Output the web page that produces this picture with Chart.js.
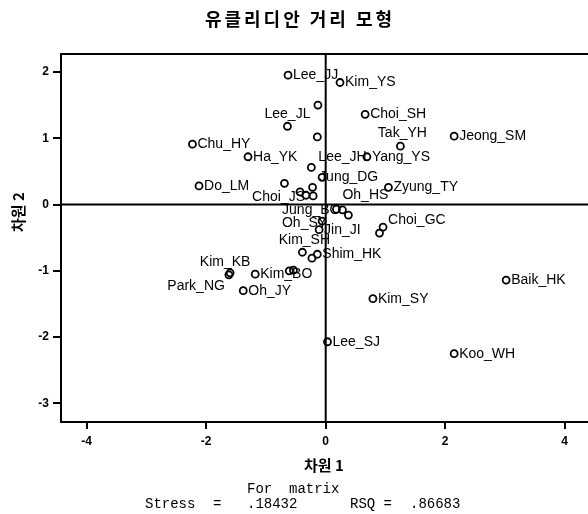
<!DOCTYPE html>
<html>
<head>
<meta charset="utf-8">
<script src="https://cdn.jsdelivr.net/npm/chart.js@4"></script>
<style>
html,body{margin:0;padding:0;background:#fff;}
#wrap{width:588px;height:514px;position:relative;}
</style>
</head>
<body>
<div id="wrap"><canvas id="c" width="588" height="514"></canvas></div>
<script>
// ---- data ----
const names = ['Lee_JJ','Kim_YS','','Lee_JL','','Chu_HY','Ha_YK','Lee_JH','Yang_YS','Jung_DG',
  'Do_LM','','','Choi_JS','','','Jung_BO','Oh_HS','','Zyung_TY',
  'Choi_SH','Tak_YH','Jeong_SM','Oh_SY','Jin_JI','Choi_GC','','Kim_SH','','Shim_HK',
  'Kim_KB','Park_NG','Kim_BO','','','Oh_JY','Lee_SJ','Kim_SY','Baik_HK','Koo_WH'];
const dim1 = [-0.63,0.24,-0.13,-0.64,-0.14,-2.23,-1.30,-0.24,0.69,-0.06,
  -2.12,-0.69,-0.22,-0.43,-0.33,-0.21,0.18,0.28,0.38,1.05,
  0.66,1.25,2.15,-0.06,-0.11,0.96,0.90,-0.39,-0.23,-0.14,
  -1.60,-1.62,-1.18,-0.61,-0.54,-1.38,0.03,0.79,3.02,2.15];
const dim2 = [1.95,1.84,1.50,1.18,1.02,0.91,0.72,0.56,0.72,0.41,
  0.28,0.32,0.26,0.19,0.14,0.13,-0.07,-0.08,-0.16,0.26,
  1.36,0.88,1.03,-0.25,-0.38,-0.34,-0.43,-0.72,-0.81,-0.75,
  -1.03,-1.06,-1.05,-1.00,-0.99,-1.30,-2.07,-1.42,-1.14,-2.25];
const xTicks = [-4,-2,0,2,4];
const yTicks = [2,1,0,-1,-2,-3];
const titleText = '유클리디안 거리 모형';
const xTitle = '차원 1';
const yTitle = '차원 2';
const noteLine1 = [['For  matrix',247]];
const noteLine2 = [['Stress',145],['=',213],['.18432',247],['RSQ =',350],['.86683',410]];

// ---- label placement (layout only) ----
const place = {
  'Lee_JL':  {dx:0, dy:-12, align:'center'},
  'Lee_JH':  {dx:7, dy:-10, align:'left'},
  'Jung_DG': {dx:-3, dy:0, align:'left'},
  'Choi_JS': {dx:5, dy:5, align:'right'},
  'Jung_BO': {dx:4, dy:1, align:'right'},
  'Oh_HS':   {dx:0, dy:-15, align:'left'},
  'Tak_YH':  {dx:2, dy:-13, align:'center'},
  'Oh_SY':   {dx:5, dy:2, align:'right'},
  'Choi_GC': {dx:5, dy:-7, align:'left'},
  'Kim_SH':  {dx:2, dy:-12, align:'center'},
  'Kim_KB':  {dx:-5, dy:-11, align:'center'},
  'Park_NG': {dx:-4, dy:11, align:'right'}
};

const pts = dim1.map((x,i)=>({x:x, y:dim2[i]}));
const FONT = '"Liberation Sans", Arial, sans-serif';
const KFONT = '"Noto Sans CJK KR", "Noto Sans", sans-serif';

const decor = {
  id:'decor',
  beforeDatasetsDraw(chart){
    const {ctx, chartArea:a, scales:{x,y}} = chart;
    ctx.save();
    ctx.strokeStyle='#000'; ctx.lineWidth=2;
    ctx.beginPath();
    ctx.moveTo(a.left-1, a.top); ctx.lineTo(a.right, a.top);
    const x0 = x.getPixelForValue(0), y0 = y.getPixelForValue(0);
    ctx.moveTo(x0, a.top); ctx.lineTo(x0, a.bottom);
    ctx.moveTo(a.left, y0); ctx.lineTo(a.right, y0);
    ctx.stroke();
    ctx.restore();
  },
  afterDatasetsDraw(chart){
    const {ctx} = chart;
    const meta = chart.getDatasetMeta(0);
    ctx.save();
    ctx.fillStyle='#000';
    ctx.font = '14px '+FONT;
    ctx.textBaseline='middle';
    meta.data.forEach((el,i)=>{
      const n = names[i]; if(!n) return;
      const p = place[n] || {dx:5, dy:0, align:'left'};
      ctx.textAlign = p.align;
      ctx.fillText(n, el.x + p.dx, el.y + p.dy);
    });
    // title
    ctx.textAlign='center';
    ctx.font = 'bold 18px '+KFONT;
    ctx.letterSpacing = '3px';
    ctx.fillText(titleText, 300, 19);
    ctx.letterSpacing = '0px';
    // x title
    ctx.font = 'bold 15px '+KFONT;
    ctx.fillText(xTitle, 324, 465);
    // y title
    ctx.save();
    ctx.translate(18, 212);
    ctx.rotate(-Math.PI/2);
    ctx.fillText(yTitle, 0, 0);
    ctx.restore();
    // footnote
    ctx.textAlign='left';
    ctx.font = '14px "Liberation Mono", "DejaVu Sans Mono", monospace';
    noteLine1.forEach(([t,px])=>ctx.fillText(t, px, 489));
    noteLine2.forEach(([t,px])=>ctx.fillText(t, px, 504));
    ctx.restore();
  }
};

new Chart(document.getElementById('c'), {
  type:'scatter',
  data:{datasets:[{
    data:pts,
    pointStyle:'circle',
    pointRadius:3.5,
    pointBorderWidth:1.8,
    borderColor:'#000',
    backgroundColor:'rgba(255,255,255,0)'
  }]},
  options:{
    responsive:false,
    devicePixelRatio:1,
    animation:false,
    layout:{autoPadding:false, padding:{top:54, left:0, right:0, bottom:0}},
    plugins:{legend:{display:false}, tooltip:{enabled:false}, title:{display:false}},
    scales:{
      x:{
        type:'linear', min:-4.43, max:4.39,
        afterBuildTicks(s){ s.ticks = xTicks.map(v=>({value:v})); },
        afterFit(s){ s.height = 92; s.paddingLeft = 0; s.paddingRight = 0; },
        grid:{display:true, drawOnChartArea:false, drawTicks:true, tickLength:7, color:'#000', lineWidth:2},
        border:{display:true, color:'#000', width:2},
        ticks:{color:'#000', padding:5, font:{family:FONT, size:12, weight:'bold'}, maxRotation:0}
      },
      y:{
        type:'linear', min:-3.28, max:2.27,
        afterBuildTicks(s){ s.ticks = yTicks.map(v=>({value:v})); },
        afterFit(s){ s.width = 61; s.paddingTop = 0; s.paddingBottom = 0; },
        grid:{display:true, drawOnChartArea:false, drawTicks:true, tickLength:8, color:'#000', lineWidth:2},
        border:{display:true, color:'#000', width:2},
        ticks:{color:'#000', padding:4, font:{family:FONT, size:12, weight:'bold'}}
      }
    }
  },
  plugins:[decor]
});
</script>
</body>
</html>
